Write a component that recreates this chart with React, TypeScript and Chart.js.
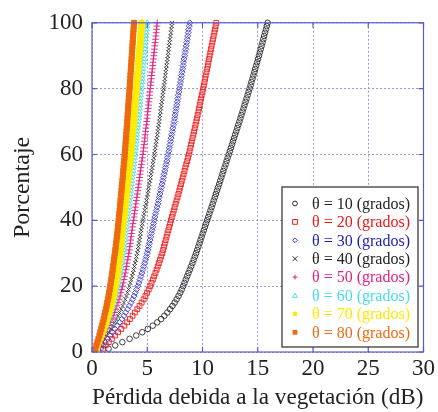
import React, { useEffect, useRef } from 'react';
import { Chart, registerables } from 'chart.js';

Chart.register(...registerables);

const FONT = '"Liberation Serif", "Times New Roman", serif';

// Percentage (y) at which each loss value (x, dB) is read
const percent = [
  1, 2, 3, 4, 5, 6, 7, 8, 9, 10, 11, 12, 13, 14, 15, 16, 17, 18, 19, 20,
  21, 22, 23, 24, 25, 26, 27, 28, 29, 30, 31, 32, 33, 34, 35, 36, 37, 38, 39, 40,
  41, 42, 43, 44, 45, 46, 47, 48, 49, 50, 51, 52, 53, 54, 55, 56, 57, 58, 59, 60,
  61, 62, 63, 64, 65, 66, 67, 68, 69, 70, 71, 72, 73, 74, 75, 76, 77, 78, 79, 80,
  81, 82, 83, 84, 85, 86, 87, 88, 89, 90, 91, 92, 93, 94, 95, 96, 97, 98, 99, 100,
];

const loss10 = [
  1.5, 2.1, 2.75, 3.4, 4.0, 4.55, 5.05, 5.5, 5.9, 6.25,
  6.55, 6.82, 7.06, 7.28, 7.48, 7.66, 7.83, 7.98, 8.12, 8.25,
  8.37, 8.49, 8.61, 8.73, 8.85, 8.97, 9.09, 9.2, 9.31, 9.42,
  9.52, 9.62, 9.72, 9.82, 9.92, 10.02, 10.12, 10.22, 10.32, 10.42,
  10.52, 10.62, 10.72, 10.82, 10.92, 11.02, 11.12, 11.21, 11.31, 11.41,
  11.51, 11.6, 11.7, 11.8, 11.89, 11.99, 12.09, 12.18, 12.28, 12.38,
  12.48, 12.57, 12.67, 12.76, 12.86, 12.95, 13.05, 13.15, 13.24, 13.34,
  13.43, 13.52, 13.62, 13.71, 13.8, 13.9, 13.99, 14.08, 14.17, 14.26,
  14.35, 14.43, 14.52, 14.6, 14.69, 14.77, 14.86, 14.94, 15.03, 15.11,
  15.19, 15.27, 15.35, 15.43, 15.5, 15.58, 15.66, 15.74, 15.82, 15.9,
];
const loss20 = [
  1.01, 1.24, 1.52, 1.80, 2.08, 2.36, 2.65, 2.93, 3.18, 3.43,
  3.67, 3.88, 4.10, 4.30, 4.49, 4.67, 4.84, 4.98, 5.13, 5.27,
  5.39, 5.51, 5.63, 5.74, 5.85, 5.95, 6.05, 6.15, 6.26, 6.36,
  6.44, 6.51, 6.59, 6.67, 6.75, 6.83, 6.91, 6.99, 7.07, 7.14,
  7.23, 7.31, 7.40, 7.48, 7.57, 7.65, 7.74, 7.82, 7.90, 7.98,
  8.06, 8.13, 8.21, 8.29, 8.37, 8.45, 8.53, 8.61, 8.69, 8.76,
  8.83, 8.90, 8.97, 9.03, 9.10, 9.17, 9.24, 9.30, 9.37, 9.44,
  9.50, 9.56, 9.63, 9.69, 9.75, 9.81, 9.87, 9.93, 10.00, 10.06,
  10.12, 10.18, 10.24, 10.29, 10.36, 10.42, 10.48, 10.53, 10.59, 10.65,
  10.71, 10.77, 10.83, 10.89, 10.95, 11.01, 11.07, 11.13, 11.19, 11.25,
];
const loss30 = [
  0.80, 0.97, 1.20, 1.42, 1.64, 1.86, 2.08, 2.30, 2.50, 2.70,
  2.89, 3.05, 3.22, 3.38, 3.53, 3.67, 3.81, 3.92, 4.04, 4.14,
  4.24, 4.34, 4.43, 4.51, 4.60, 4.68, 4.76, 4.84, 4.92, 5.00,
  5.06, 5.12, 5.19, 5.25, 5.31, 5.37, 5.44, 5.50, 5.56, 5.62,
  5.69, 5.75, 5.82, 5.89, 5.96, 6.02, 6.09, 6.15, 6.21, 6.27,
  6.34, 6.40, 6.46, 6.52, 6.59, 6.65, 6.71, 6.77, 6.83, 6.89,
  6.95, 7.00, 7.06, 7.11, 7.16, 7.21, 7.27, 7.32, 7.38, 7.43,
  7.48, 7.52, 7.57, 7.62, 7.67, 7.72, 7.77, 7.81, 7.86, 7.91,
  7.96, 8.01, 8.06, 8.10, 8.15, 8.20, 8.24, 8.28, 8.33, 8.38,
  8.43, 8.47, 8.52, 8.57, 8.62, 8.66, 8.71, 8.75, 8.80, 8.85,
];
const loss40 = [
  0.65, 0.80, 0.98, 1.16, 1.34, 1.52, 1.71, 1.89, 2.05, 2.21,
  2.36, 2.50, 2.64, 2.77, 2.89, 3.01, 3.12, 3.21, 3.31, 3.39,
  3.47, 3.55, 3.63, 3.70, 3.77, 3.84, 3.90, 3.97, 4.03, 4.10,
  4.15, 4.20, 4.25, 4.30, 4.35, 4.40, 4.45, 4.50, 4.55, 4.60,
  4.66, 4.71, 4.77, 4.82, 4.88, 4.93, 4.99, 5.04, 5.09, 5.14,
  5.19, 5.24, 5.29, 5.34, 5.39, 5.44, 5.50, 5.55, 5.60, 5.65,
  5.69, 5.73, 5.78, 5.82, 5.87, 5.91, 5.96, 6.00, 6.04, 6.08,
  6.12, 6.16, 6.20, 6.24, 6.28, 6.32, 6.36, 6.40, 6.44, 6.48,
  6.52, 6.56, 6.60, 6.63, 6.67, 6.71, 6.75, 6.79, 6.83, 6.87,
  6.91, 6.94, 6.98, 7.02, 7.06, 7.10, 7.14, 7.17, 7.21, 7.25,
];
const loss50 = [
  0.53, 0.65, 0.80, 0.94, 1.09, 1.24, 1.39, 1.53, 1.67, 1.80,
  1.92, 2.04, 2.15, 2.25, 2.35, 2.45, 2.54, 2.61, 2.69, 2.76,
  2.83, 2.89, 2.95, 3.01, 3.07, 3.12, 3.17, 3.23, 3.28, 3.33,
  3.38, 3.42, 3.46, 3.50, 3.54, 3.58, 3.62, 3.66, 3.71, 3.75,
  3.80, 3.84, 3.88, 3.92, 3.97, 4.01, 4.06, 4.10, 4.14, 4.18,
  4.23, 4.27, 4.31, 4.35, 4.39, 4.43, 4.47, 4.51, 4.56, 4.60,
  4.64, 4.67, 4.71, 4.74, 4.78, 4.81, 4.85, 4.88, 4.92, 4.95,
  4.99, 5.02, 5.05, 5.08, 5.11, 5.14, 5.18, 5.21, 5.24, 5.27,
  5.31, 5.34, 5.37, 5.40, 5.43, 5.46, 5.49, 5.52, 5.56, 5.59,
  5.62, 5.65, 5.68, 5.71, 5.75, 5.78, 5.81, 5.84, 5.87, 5.90,
];
const loss60 = [
  0.45, 0.55, 0.68, 0.80, 0.93, 1.05, 1.18, 1.30, 1.42, 1.53,
  1.63, 1.73, 1.82, 1.91, 2.00, 2.08, 2.15, 2.22, 2.28, 2.34,
  2.40, 2.45, 2.50, 2.55, 2.60, 2.65, 2.69, 2.74, 2.78, 2.83,
  2.87, 2.90, 2.94, 2.97, 3.01, 3.04, 3.08, 3.11, 3.15, 3.18,
  3.22, 3.25, 3.29, 3.33, 3.37, 3.40, 3.44, 3.48, 3.52, 3.55,
  3.59, 3.62, 3.66, 3.69, 3.73, 3.76, 3.80, 3.83, 3.87, 3.90,
  3.93, 3.96, 3.99, 4.02, 4.05, 4.08, 4.11, 4.14, 4.17, 4.20,
  4.23, 4.25, 4.28, 4.31, 4.34, 4.36, 4.39, 4.42, 4.45, 4.47,
  4.50, 4.53, 4.56, 4.58, 4.61, 4.63, 4.66, 4.68, 4.71, 4.74,
  4.77, 4.79, 4.82, 4.84, 4.87, 4.90, 4.93, 4.95, 4.98, 5.00,
];
const loss70 = [
  0.41, 0.50, 0.61, 0.72, 0.84, 0.95, 1.06, 1.17, 1.27, 1.37,
  1.47, 1.55, 1.64, 1.72, 1.80, 1.87, 1.94, 1.99, 2.05, 2.11,
  2.16, 2.21, 2.25, 2.30, 2.34, 2.38, 2.42, 2.46, 2.50, 2.54,
  2.58, 2.61, 2.64, 2.67, 2.70, 2.73, 2.76, 2.79, 2.83, 2.86,
  2.90, 2.93, 2.96, 2.99, 3.03, 3.06, 3.10, 3.13, 3.16, 3.19,
  3.22, 3.25, 3.29, 3.32, 3.35, 3.38, 3.41, 3.44, 3.48, 3.51,
  3.54, 3.56, 3.59, 3.61, 3.64, 3.67, 3.70, 3.72, 3.75, 3.78,
  3.81, 3.83, 3.85, 3.87, 3.90, 3.92, 3.95, 3.97, 4.00, 4.02,
  4.05, 4.07, 4.10, 4.12, 4.15, 4.17, 4.19, 4.21, 4.24, 4.26,
  4.29, 4.31, 4.34, 4.36, 4.39, 4.41, 4.43, 4.45, 4.48, 4.50,
];
const loss80 = [
  0.30, 0.40, 0.49, 0.58, 0.67, 0.75, 0.83, 0.90, 0.98, 1.05,
  1.12, 1.19, 1.26, 1.32, 1.38, 1.44, 1.50, 1.55, 1.60, 1.65,
  1.70, 1.74, 1.79, 1.83, 1.87, 1.91, 1.95, 1.99, 2.03, 2.07,
  2.11, 2.15, 2.18, 2.22, 2.25, 2.29, 2.32, 2.35, 2.38, 2.41,
  2.44, 2.47, 2.50, 2.53, 2.56, 2.58, 2.61, 2.64, 2.67, 2.69,
  2.72, 2.75, 2.78, 2.80, 2.83, 2.85, 2.88, 2.91, 2.94, 2.96,
  2.99, 3.01, 3.03, 3.05, 3.08, 3.10, 3.12, 3.14, 3.17, 3.19,
  3.21, 3.23, 3.25, 3.27, 3.29, 3.31, 3.34, 3.36, 3.38, 3.40,
  3.42, 3.44, 3.46, 3.48, 3.50, 3.52, 3.54, 3.56, 3.58, 3.60,
  3.62, 3.64, 3.66, 3.68, 3.70, 3.72, 3.74, 3.76, 3.78, 3.80,
];

const seriesLabels = ['θ = 10 (grados)', 'θ = 20 (grados)', 'θ = 30 (grados)', 'θ = 40 (grados)', 'θ = 50 (grados)', 'θ = 60 (grados)', 'θ = 70 (grados)', 'θ = 80 (grados)'];
const seriesLoss = [loss10, loss20, loss30, loss40, loss50, loss60, loss70, loss80];
const seriesColors = ['#2a2a2a', '#ee1c1c', '#3a3ad8', '#333333', '#e0207f', '#4fdcec', '#ffec00', '#ee6a10'];
const legendTextColors = ['#222222', '#e81818', '#1c1cb8', '#222222', '#e0207f', '#48dcec', '#ffe800', '#ee6a10'];
const seriesStyles = ['circle', 'rect', 'rectRot', 'crossRot', 'cross', 'triangle', 'circle', 'rect'];
const seriesFilled = [false, false, false, false, false, false, true, true];
const seriesRadius = [2.8, 3.4, 3.0, 2.8, 3.4, 3.0, 3.2, 3.6];

const xTicks = [0, 5, 10, 15, 20, 25, 30];
const yTicks = [0, 20, 40, 60, 80, 100];

function drawMarker(ctx: CanvasRenderingContext2D, style: string, x: number, y: number, r: number, color: string, filled: boolean) {
  ctx.beginPath();
  ctx.strokeStyle = color;
  ctx.fillStyle = color;
  ctx.lineWidth = 1;
  if (style === 'circle') {
    ctx.arc(x, y, r, 0, Math.PI * 2);
  } else if (style === 'rect') {
    ctx.rect(x - r, y - r, 2 * r, 2 * r);
  } else if (style === 'rectRot') {
    ctx.moveTo(x, y - r); ctx.lineTo(x + r, y); ctx.lineTo(x, y + r); ctx.lineTo(x - r, y); ctx.closePath();
  } else if (style === 'crossRot') {
    ctx.moveTo(x - r, y - r); ctx.lineTo(x + r, y + r); ctx.moveTo(x + r, y - r); ctx.lineTo(x - r, y + r);
  } else if (style === 'cross') {
    ctx.moveTo(x, y - r); ctx.lineTo(x, y + r); ctx.moveTo(x - r, y); ctx.lineTo(x + r, y);
  } else if (style === 'triangle') {
    ctx.moveTo(x, y - r); ctx.lineTo(x + r, y + r * 0.8); ctx.lineTo(x - r, y + r * 0.8); ctx.closePath();
  }
  if (filled) ctx.fill(); else ctx.stroke();
}

const framePlugin = {
  id: 'frameTicks',
  afterDatasetsDraw(chart: any) {
    const { ctx, chartArea: a, scales } = chart;
    ctx.save();
    ctx.strokeStyle = '#5a5ad0';
    ctx.lineWidth = 1.2;
    ctx.strokeRect(a.left, a.top, a.right - a.left, a.bottom - a.top);
    ctx.beginPath();
    const t = 5;
    xTicks.forEach((v) => {
      const px = scales.x.getPixelForValue(v);
      ctx.moveTo(px, a.bottom); ctx.lineTo(px, a.bottom - t);
      ctx.moveTo(px, a.top); ctx.lineTo(px, a.top + t);
    });
    yTicks.forEach((v) => {
      const py = scales.y.getPixelForValue(v);
      ctx.moveTo(a.left, py); ctx.lineTo(a.left + t, py);
      ctx.moveTo(a.right, py); ctx.lineTo(a.right - t, py);
    });
    ctx.stroke();
    ctx.restore();
  },
};

const legendPlugin = {
  id: 'boxLegend',
  afterDraw(chart: any) {
    const ctx: CanvasRenderingContext2D = chart.ctx;
    const x0 = 282, y0 = 187, w = 136, h = 160;
    ctx.save();
    ctx.fillStyle = '#ffffff';
    ctx.fillRect(x0, y0, w, h);
    ctx.strokeStyle = '#555555';
    ctx.lineWidth = 1.5;
    ctx.strokeRect(x0, y0, w, h);
    ctx.font = `16px ${FONT}`;
    ctx.textBaseline = 'middle';
    ctx.textAlign = 'left';
    seriesLabels.forEach((label, i) => {
      const cy = y0 + 16.5 + i * 18.4;
      drawMarker(ctx, seriesStyles[i], x0 + 13, cy, 2.4, seriesColors[i], seriesFilled[i]);
      ctx.fillStyle = legendTextColors[i];
      ctx.fillText(label, x0 + 30, cy + 1);
    });
    ctx.restore();
  },
};

export default function App() {
  const ref = useRef<HTMLCanvasElement>(null);
  useEffect(() => {
    const canvas = ref.current;
    if (!canvas) return;
    const datasets = seriesLabels.map((label, i) => ({
      label,
      data: seriesLoss[i].map((x, j) => ({ x, y: percent[j] })),
      pointStyle: seriesStyles[i] as any,
      pointRadius: seriesRadius[i],
      pointBorderWidth: 0.9,
      pointBorderColor: seriesColors[i],
      pointBackgroundColor: seriesFilled[i] ? seriesColors[i] : 'rgba(0,0,0,0)',
      borderColor: seriesColors[i],
      borderWidth: 0,
      showLine: false,
      order: 8 - i,
      clip: false as any,
    }));
    const chart = new Chart(canvas, {
      type: 'scatter',
      data: { datasets },
      options: {
        animation: false,
        responsive: false,
        maintainAspectRatio: false,
        layout: { padding: { left: 0, right: 14, top: 19, bottom: 0 } },
        plugins: { legend: { display: false }, tooltip: { enabled: false } },
        scales: {
          x: {
            type: 'linear',
            min: 0,
            max: 30,
            afterFit: (s: any) => { s.height = 60; },
            afterBuildTicks: (s: any) => { s.ticks = xTicks.map((v) => ({ value: v })); },
            ticks: { font: { family: FONT, size: 23 }, color: '#222', padding: 3, maxRotation: 0 },
            grid: { color: '#9a9ae0', lineWidth: 1, drawTicks: false },
            border: { display: false, dash: [2, 2] },
            title: {
              display: true,
              text: 'Pérdida debida a la vegetación (dB)',
              font: { family: FONT, size: 24 },
              color: '#222',
              padding: { top: 0, bottom: 0 },
            },
          },
          y: {
            type: 'linear',
            min: 0,
            max: 100,
            afterFit: (s: any) => { s.width = 92; },
            afterBuildTicks: (s: any) => { s.ticks = yTicks.map((v) => ({ value: v })); },
            ticks: { font: { family: FONT, size: 23 }, color: '#222', padding: 9 },
            grid: { color: '#9a9ae0', lineWidth: 1, drawTicks: false },
            border: { display: false, dash: [2, 2] },
            title: {
              display: true,
              text: 'Porcentaje',
              font: { family: FONT, size: 24 },
              color: '#222',
              padding: { top: 8, bottom: 0 },
            },
          },
        },
      },
      plugins: [framePlugin, legendPlugin],
    });
    return () => chart.destroy();
  }, []);
  return (
    <div style={{ position: 'fixed', left: 0, top: 0, width: 438, height: 412, background: '#ffffff' }}>
      <canvas ref={ref} width={438} height={412} style={{ display: 'block', width: 438, height: 412 }} />
    </div>
  );
}
